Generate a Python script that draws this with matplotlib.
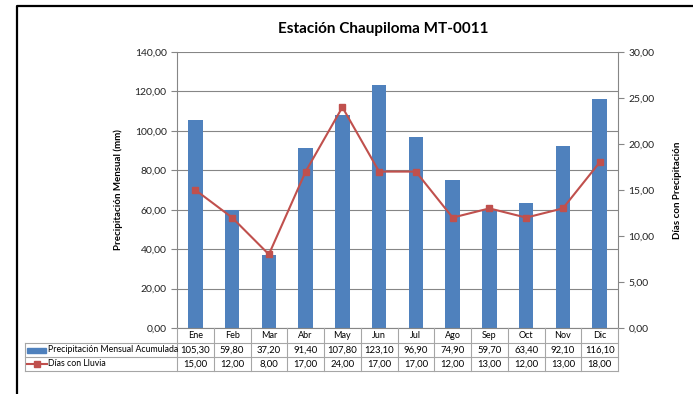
import matplotlib.pyplot as plt
import numpy as np

plt.rcParams['font.family'] = ['Lato', 'DejaVu Sans']

meses = ["Ene", "Feb", "Mar", "Abr", "May", "Jun", "Jul", "Ago", "Sep", "Oct", "Nov", "Dic"]
precipitacion = [105.30, 59.80, 37.20, 91.40, 107.80, 123.10, 96.90, 74.90, 59.70, 63.40, 92.10, 116.10]
dias_lluvia = [15.00, 12.00, 8.00, 17.00, 24.00, 17.00, 17.00, 12.00, 13.00, 12.00, 13.00, 18.00]

AZUL = '#4F81BD'
ROJO = '#C0504D'
GRIS = '#868686'

W, H = 693, 394
fig = plt.figure(figsize=(W / 100, H / 100), dpi=100)

# plot area in pixels
x0, x1, y_top, y_bot = 177, 618, 52, 328


def fx(px):
    return px / W


def fy(py):
    return 1 - py / H


def coma(v):
    return f"{v:.2f}".replace('.', ',')


ax = fig.add_axes([fx(x0), fy(y_bot), fx(x1) - fx(x0), fy(y_top) - fy(y_bot)])
x = np.arange(len(meses))
ax.bar(x, precipitacion, width=0.4, color=AZUL, zorder=2)
ax.set_xlim(-0.5, len(meses) - 0.5)
ax.set_ylim(0, 140)
ax.set_yticks(np.arange(0, 141, 20))
ax.set_yticklabels([coma(v) for v in np.arange(0, 141, 20)], fontsize=7.5)
ax.set_xticks([])
ax.grid(axis='y', color=GRIS, linewidth=0.8, zorder=0)
for s in ['top', 'right']:
    ax.spines[s].set_visible(False)
ax.spines['left'].set_color(GRIS)
ax.spines['bottom'].set_color(GRIS)
ax.tick_params(axis='y', colors=GRIS, labelcolor='#222222', length=4, width=0.8)
ax.set_ylabel("Precipitación Mensual (mm)", fontsize=7, fontweight='bold', labelpad=8)

ax2 = ax.twinx()
ax2.plot(x, dias_lluvia, color=ROJO, linewidth=1.5, marker='s', markersize=5, zorder=3)
ax2.set_ylim(0, 30)
ax2.set_yticks(np.arange(0, 31, 5))
ax2.set_yticklabels([coma(v) for v in np.arange(0, 31, 5)], fontsize=7.5)
for s in ['top', 'left', 'bottom']:
    ax2.spines[s].set_visible(False)
ax2.spines['right'].set_color(GRIS)
ax2.tick_params(axis='y', colors=GRIS, labelcolor='#222222', length=4, width=0.8)
ax2.set_ylabel("Días con Precipitación", fontsize=7, fontweight='bold', labelpad=13)

fig.text(fx(383), fy(29), "Estación Chaupiloma MT-0011", ha='center', va='center',
         fontsize=11, fontweight='bold')

# data table under the chart, drawn on a pixel overlay
ov = fig.add_axes([0, 0, 1, 1], facecolor='none')
ov.set_xlim(0, W)
ov.set_ylim(H, 0)
ov.axis('off')

tab_left = 25
r1, r2, r3 = 343, 357, 371
cw = (x1 - x0) / len(meses)
lc = '#A6A6A6'
for yy in (r1, r2, r3):
    ov.plot([tab_left, x1], [yy, yy], color=lc, lw=0.8)
ov.plot([tab_left, tab_left], [r1, r3], color=lc, lw=0.8)
for i in range(len(meses) + 1):
    xx = x0 + i * cw
    ov.plot([xx, xx], [y_bot, r3], color=lc, lw=0.8)

for i, m in enumerate(meses):
    cx = x0 + (i + 0.5) * cw
    ov.text(cx, (y_bot + r1) / 2 + 0.5, m, ha='center', va='center', fontsize=6.5)
    ov.text(cx, (r1 + r2) / 2, coma(precipitacion[i]), ha='center', va='center', fontsize=6.8)
    ov.text(cx, (r2 + r3) / 2, coma(dias_lluvia[i]), ha='center', va='center', fontsize=6.8)

# legend keys
ov.add_patch(plt.Rectangle((27, (r1 + r2) / 2 - 2.5), 19, 5, color=AZUL))
ov.text(48, (r1 + r2) / 2, "Precipitación Mensual Acumulada", ha='left', va='center', fontsize=6.3)
ov.plot([27, 47], [(r2 + r3) / 2] * 2, color=ROJO, lw=1.5)
ov.plot([37], [(r2 + r3) / 2], marker='s', color=ROJO, markersize=4)
ov.text(48, (r2 + r3) / 2, "Días con Lluvia", ha='left', va='center', fontsize=6.3)

# outer chart frame
ov.plot([17, 17, W + 5], [H + 5, 6, 6], color='black', lw=1.6)

fig.savefig("out.png", dpi=100)
